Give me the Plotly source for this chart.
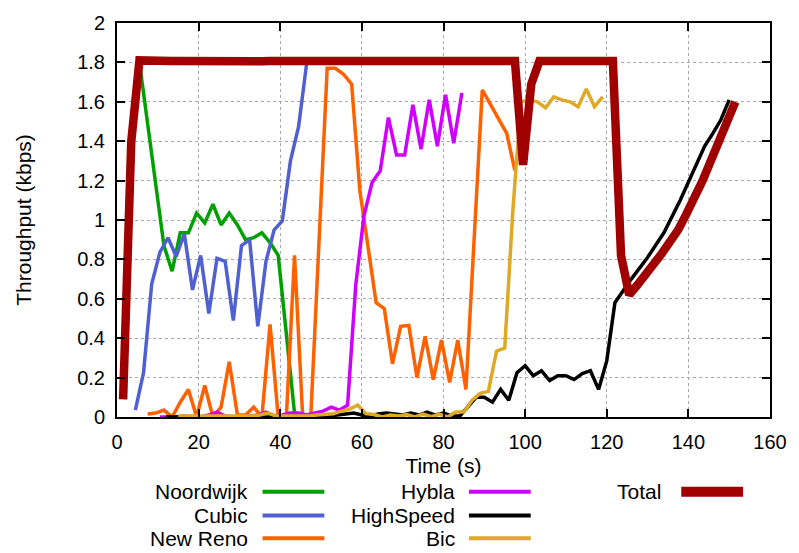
import plotly.graph_objects as go

# ---------------- data ----------------
noordwijk_t = [5.5, 11.5, 13.5, 15.5, 17.5, 19.5, 21.5, 23.5, 25.5, 27.5, 29.5, 31.5,
               33.5, 35.5, 37.5, 39.5, 43.5, 45.5]
noordwijk_y = [1.80, 0.87, 0.74, 0.935, 0.935, 1.035, 0.985, 1.08, 0.975, 1.035, 0.975, 0.90,
               0.91, 0.935, 0.885, 0.82, 0.02, 0.0]

cubic_t = [4.5, 6.5, 8.5, 10.5, 12.5, 14.5, 16.5, 18.5, 20.5, 22.5, 24.5, 26.5, 28.5,
           30.5, 32.5, 34.5, 36.5, 38.5, 40.5, 42.5, 44.5, 46.5]
cubic_y = [0.035, 0.225, 0.675, 0.835, 0.91, 0.815, 0.93, 0.645, 0.82, 0.525, 0.805, 0.79, 0.49,
           0.87, 0.90, 0.46, 0.79, 0.95, 0.995, 1.30, 1.475, 1.80]

newreno_t = [7.5, 9.5, 11.5, 13.5, 15.5, 17.5, 19.5, 21.5, 23.5, 25.5, 27.5, 29.5, 31.5,
             33.5, 35.5, 37.5, 39.5, 41.5, 43.5, 45.5, 47.5, 51.5, 53.5, 55.5, 57.5, 59.5,
             63.5, 65.5, 67.5, 69.5, 71.5, 73.5, 75.5, 77.5, 79.5, 81.5, 83.5, 85.5, 89.5,
             93.5, 95.5, 97.5]
newreno_y = [0.015, 0.02, 0.035, 0.0, 0.075, 0.14, 0.0, 0.16, 0.0, 0.05, 0.28, 0.01, 0.01,
             0.05, 0.0, 0.47, 0.0, 0.0, 0.82, 0.0, 0.01, 1.77, 1.77, 1.74, 1.69, 1.15,
             0.58, 0.55, 0.27, 0.46, 0.465, 0.20, 0.41, 0.19, 0.39, 0.175, 0.39, 0.14, 1.66,
             1.51, 1.44, 1.25]

hybla_t = [10.5, 12.5, 14.5, 16.5, 18.5, 20.5, 22.5, 24.5, 26.5, 28.5, 30.5, 32.5, 34.5,
           36.5, 38.5, 40.5, 42.5, 44.5, 46.5, 48.5, 50.5, 52.5, 54.5, 56.5, 58.5, 60.5,
           62.5, 64.5, 66.5, 68.5, 70.5, 72.5, 74.5, 76.5, 78.5, 80.5, 82.5, 84.5]
hybla_y = [0.0, 0.0, 0.0, 0.005, 0.0, 0.0, 0.01, 0.025, 0.005, 0.0, 0.0, 0.005, 0.01,
           0.025, 0.005, 0.01, 0.02, 0.02, 0.01, 0.02, 0.03, 0.05, 0.035, 0.06, 0.67, 1.02,
           1.19, 1.25, 1.52, 1.33, 1.33, 1.585, 1.36, 1.61, 1.375, 1.635, 1.39, 1.645]

highspeed_t = [12, 14, 16, 18, 20, 22, 24, 26, 28, 30, 32, 34, 36, 38, 40, 42, 44, 46, 48,
               50, 52, 54, 56, 58, 60, 62, 64, 66, 68, 70, 72, 74, 76, 78, 80, 82, 84, 86,
               88, 90, 92, 94, 96, 98, 100, 102, 104, 106, 108, 110, 112, 114, 116, 118,
               120, 122, 124, 126, 130, 134, 138, 142, 144, 146, 148, 150]
highspeed_y = [0.0, 0.0, 0.0, 0.0, 0.0, 0.0, 0.0, 0.0, 0.0, 0.0, 0.0, 0.0, 0.0, 0.0, 0.0,
               0.0, 0.0, 0.0, 0.0, 0.0, 0.005, 0.01, 0.015, 0.02, 0.01, 0.005, 0.015, 0.02,
               0.015, 0.01, 0.02, 0.01, 0.025, 0.01, 0.02, 0.005, 0.005, 0.05, 0.10, 0.10,
               0.075, 0.14, 0.085, 0.225, 0.26, 0.21, 0.235, 0.185, 0.21, 0.21, 0.19, 0.22,
               0.235, 0.14, 0.285, 0.58, 0.64, 0.70, 0.81, 0.935, 1.10, 1.29, 1.375, 1.44,
               1.51, 1.61]

bic_t = [15, 17, 19, 21, 23, 25, 27, 29, 31, 33, 35, 37, 39, 41, 43, 45, 47, 49, 51, 53,
         55, 57, 59, 61, 63, 65, 67, 69, 71, 73, 75, 77, 79, 81, 83, 85, 87, 89, 91, 93,
         95, 97, 99, 101, 103, 105, 107, 109, 111, 113, 115, 117, 119]
bic_y = [0.005, 0.005, 0.005, 0.005, 0.005, 0.005, 0.005, 0.005, 0.005, 0.005, 0.01, 0.02,
         0.005, 0.005, 0.005, 0.005, 0.005, 0.01, 0.012, 0.017, 0.03, 0.04, 0.06, 0.017,
         0.013, 0.0, 0.01, 0.005, 0.013, 0.0, 0.015, 0.002, 0.015, 0.0, 0.025, 0.025,
         0.085, 0.12, 0.13, 0.335, 0.35, 1.05, 1.60, 1.61, 1.60, 1.57, 1.625, 1.61, 1.60,
         1.575, 1.665, 1.575, 1.625]

total_t = [1.5, 3.5, 5.5, 7.5, 9.5, 11.5, 13.5, 15.5, 17.5, 19.5, 21.5, 23.5, 25.5, 27.5,
           29.5, 31.5, 33.5, 35.5, 37.5, 39.5, 41.5, 43.5, 45.5, 47.5, 49.5, 51.5, 53.5,
           55.5, 57.5, 59.5, 61.5, 63.5, 65.5, 67.5, 69.5, 71.5, 73.5, 75.5, 77.5, 79.5,
           81.5, 83.5, 85.5, 87.5, 89.5, 91.5, 93.5, 95.5, 97.5, 99.5, 101.5, 103.5, 105.5,
           107.5, 109.5, 111.5, 113.5, 115.5, 117.5, 119.5, 121.5, 123.5, 125.5, 127.5,
           129.5, 131.5, 133.5, 135.5, 137.5, 139.5, 141.5, 143.5, 145.5, 147.5, 149.5, 151.5]
total_y = [0.09, 1.40, 1.81, 1.807, 1.807, 1.806, 1.807, 1.807, 1.806, 1.807, 1.807, 1.806,
           1.807, 1.807, 1.806, 1.807, 1.807, 1.806, 1.807, 1.807, 1.806, 1.807, 1.807,
           1.806, 1.807, 1.807, 1.806, 1.807, 1.807, 1.806, 1.807, 1.807, 1.806, 1.807,
           1.807, 1.806, 1.807, 1.807, 1.806, 1.807, 1.807, 1.806, 1.807, 1.807, 1.806,
           1.807, 1.807, 1.806, 1.807, 1.28, 1.69, 1.807, 1.807, 1.806, 1.807, 1.807,
           1.806, 1.807, 1.807, 1.806, 1.807, 0.82, 0.62, 0.67, 0.72, 0.77, 0.83, 0.89,
           0.95, 1.03, 1.11, 1.20, 1.30, 1.40, 1.50, 1.60]

x_ticks = [0, 20, 40, 60, 80, 100, 120, 140, 160]
y_ticks = [0, 0.2, 0.4, 0.6, 0.8, 1, 1.2, 1.4, 1.6, 1.8, 2]

series = [
    ("Noordwijk", noordwijk_t, noordwijk_y, "#00a000", 3.5),
    ("Cubic", cubic_t, cubic_y, "#5060d0", 3.5),
    ("New Reno", newreno_t, newreno_y, "#ff6000", 3.5),
    ("Hybla", hybla_t, hybla_y, "#d000ff", 3.5),
    ("HighSpeed", highspeed_t, highspeed_y, "#000000", 3.5),
    ("Bic", bic_t, bic_y, "#dfa825", 3.5),
    ("Total", total_t, total_y, "#a00000", 8.5),
]

FONT = "Liberation Sans, Arial, sans-serif"
FS = 21

fig = go.Figure()
for name, t, y, color, w in series:
    fig.add_trace(go.Scatter(x=t, y=y, mode="lines", name=name,
                             line=dict(color=color, width=w), showlegend=False))

# plot area in pixels: left 117, right 772, top 17, bottom 417
L, R, T, B = 117, 772, 17, 417
W, H = 799, 553


def px(x):
    return (x - L) / (R - L)


def py(y):
    return (B - y) / (B - T)


# gnuplot-style key: text right-aligned, sample line to the right
key_cols = [(250, 263, 325), (458, 470, 532), (665, 683, 745)]
key_rows = [493, 517, 540]
layout_slots = [(0, 0), (0, 1), (0, 2), (1, 0), (1, 1), (1, 2), (2, 0)]
shapes = []
annotations = []
for (name, t, y, color, w), (c, r) in zip(series, layout_slots):
    tx, l0, l1 = key_cols[c]
    yy = key_rows[r]
    annotations.append(dict(x=px(tx), y=py(yy), xref="paper", yref="paper", text=name,
                            showarrow=False, xanchor="right", yanchor="middle",
                            font=dict(family=FONT, size=FS, color="black")))
    shapes.append(dict(type="line", xref="paper", yref="paper", x0=px(l0), x1=px(l1),
                       y0=py(yy), y1=py(yy), line=dict(color=color, width=4 if w < 5 else 10)))

axis_common = dict(showline=True, linecolor="black", linewidth=2, mirror="ticks",
                   ticks="inside", ticklen=8, tickwidth=2, tickcolor="black",
                   showgrid=True, gridcolor="#a8a8a8", griddash="dot", gridwidth=1,
                   zeroline=False, tickfont=dict(family=FONT, size=FS - 1, color="black"))

fig.update_layout(
    width=W, height=H,
    margin=dict(l=L, r=W - R, t=T, b=H - B),
    paper_bgcolor="white", plot_bgcolor="white",
    xaxis=dict(range=[0, 160], tickvals=x_ticks, ticklabelstandoff=6,
               title=dict(text="Time (s)", font=dict(family=FONT, size=FS, color="black"),
                          standoff=6),
               **axis_common),
    yaxis=dict(range=[0, 2], tickvals=y_ticks, ticklabelstandoff=6,
               title=dict(text="Throughput (kbps)", font=dict(family=FONT, size=FS, color="black"),
                          standoff=40),
               **axis_common),
    shapes=shapes,
    annotations=annotations,
)

fig.write_html("out.html")
